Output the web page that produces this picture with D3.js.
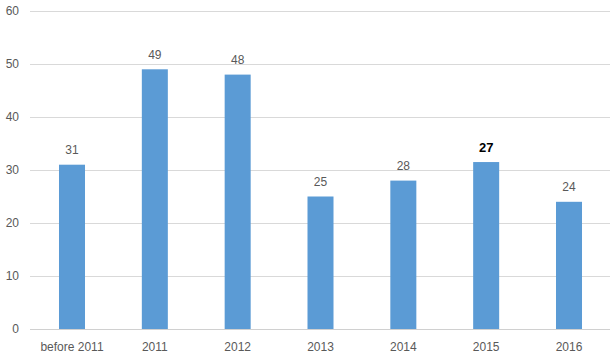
<!DOCTYPE html>
<html>
<head>
<meta charset="utf-8">
<script src="https://cdn.jsdelivr.net/npm/d3@7"></script>
<style>
  body { margin: 0; background: #fff; }
  text { font-family: "Liberation Sans", Arial, sans-serif; }
</style>
</head>
<body>
<div id="chart"></div>
<script>
var categories = ["before 2011", "2011", "2012", "2013", "2014", "2015", "2016"];
var values = [31, 49, 48, 25, 28, 31.5, 24];
var labels = ["31", "49", "48", "25", "28", "27", "24"];
var yTicks = [0, 10, 20, 30, 40, 50, 60];

var svg = d3.select("#chart").append("svg")
  .attr("width", 612)
  .attr("height", 360),
  width = +svg.attr("width"),
  height = +svg.attr("height");

var x = d3.scaleBand().domain(categories).range([30, 611]).paddingInner(0.686).paddingOuter(0.35);
var y = d3.scaleLinear().domain([0, 60]).range([329, 11]);

// gridlines
svg.selectAll(".grid")
  .data(yTicks)
  .enter()
  .append("line")
  .attr("class", "grid")
  .attr("x1", 30)
  .attr("x2", 610)
  .attr("y1", function(d) { return Math.round(y(d)) + 0.5; })
  .attr("y2", function(d) { return Math.round(y(d)) + 0.5; })
  .attr("stroke", function(d) { return d === 0 ? "#d0d0d0" : "#d9d9d9"; })
  .attr("stroke-width", 1);

// y tick labels
svg.selectAll(".ytick")
  .data(yTicks)
  .enter()
  .append("text")
  .attr("class", "ytick")
  .attr("x", 19)
  .attr("y", function(d) { return y(d); })
  .attr("dy", "0.35em")
  .attr("text-anchor", "end")
  .attr("font-size", "12px")
  .attr("fill", "#595959")
  .text(function(d) { return d; });

// bars
svg.selectAll(".bar")
  .data(values)
  .enter()
  .append("rect")
  .attr("class", "bar")
  .attr("x", function(d, i) { return x(categories[i]); })
  .attr("width", x.bandwidth())
  .attr("y", function(d) { return y(d); })
  .attr("height", function(d) { return y(0) - y(d); })
  .attr("fill", "#5b9bd5");

// value labels
svg.selectAll(".vlabel")
  .data(values)
  .enter()
  .append("text")
  .attr("class", "vlabel")
  .attr("x", function(d, i) { return x(categories[i]) + x.bandwidth() / 2; })
  .attr("y", function(d) { return y(d) - 15; })
  .attr("dy", "0.35em")
  .attr("text-anchor", "middle")
  .attr("font-size", function(d, i) { return i === 5 ? "13px" : "12px"; })
  .attr("font-weight", function(d, i) { return i === 5 ? "bold" : "normal"; })
  .attr("fill", function(d, i) { return i === 5 ? "#000" : "#595959"; })
  .text(function(d, i) { return labels[i]; });

// x labels
svg.selectAll(".xlabel")
  .data(categories)
  .enter()
  .append("text")
  .attr("class", "xlabel")
  .attr("x", function(d) { return x(d) + x.bandwidth() / 2; })
  .attr("y", 347)
  .attr("dy", "0.35em")
  .attr("text-anchor", "middle")
  .attr("font-size", "12px")
  .attr("fill", "#595959")
  .text(function(d) { return d; });
</script>
</body>
</html>
